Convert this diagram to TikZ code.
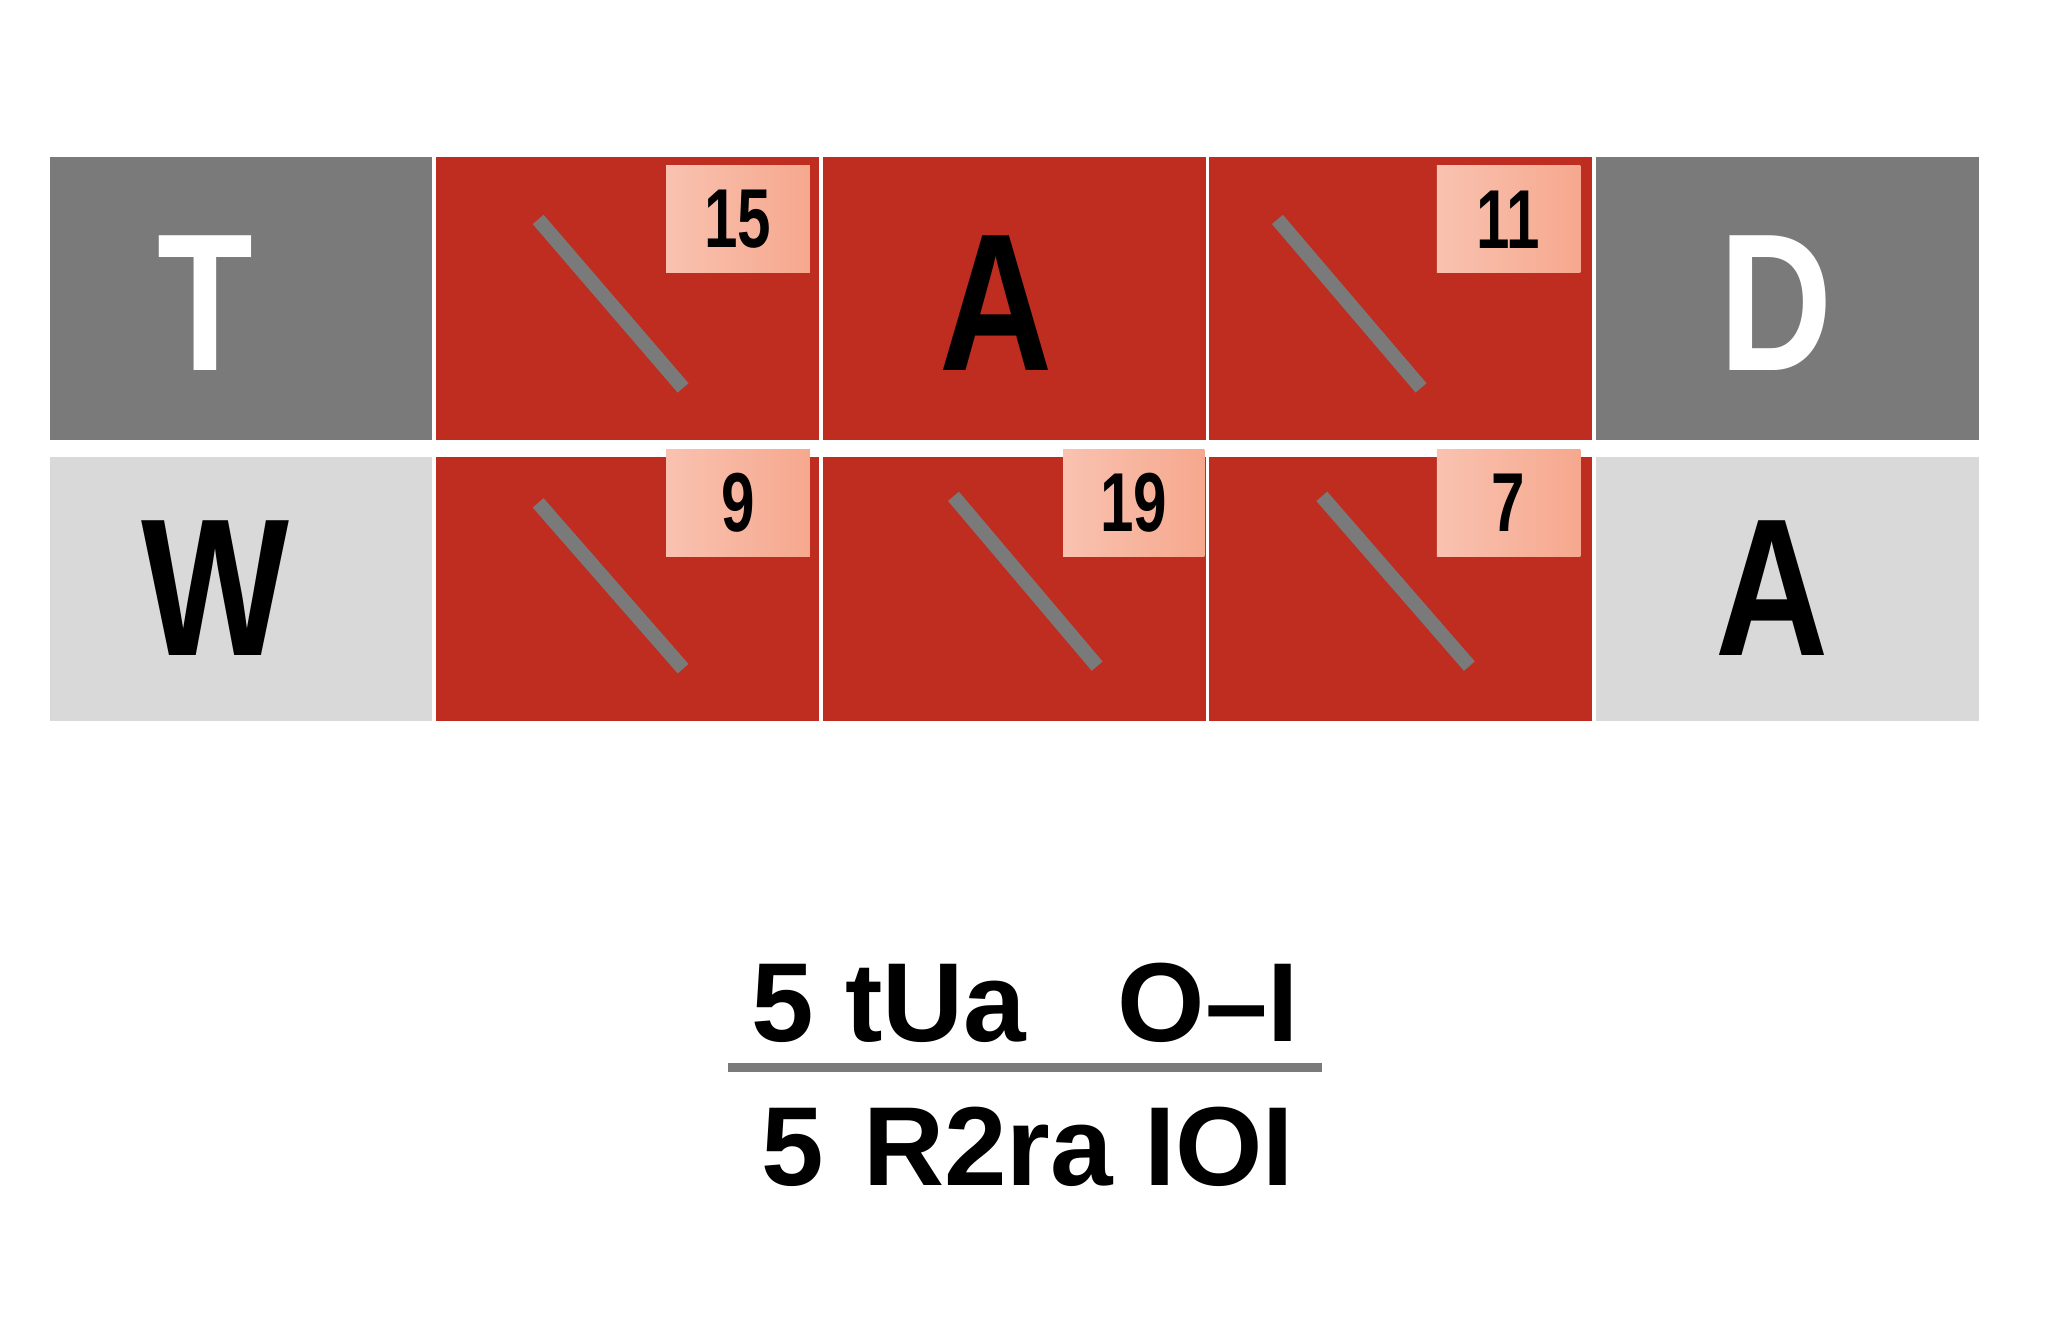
\documentclass[tikz,border=0pt]{standalone}
\usepackage{fontspec}
\setmainfont{Liberation Sans}
\definecolor{cred}{HTML}{BE2D20}
\definecolor{dgray}{HTML}{7A7A7A}
\definecolor{lgray}{HTML}{D9D9D9}
\definecolor{badge}{HTML}{F6A88E}
\begin{document}
\begin{tikzpicture}[x=1pt,y=-1pt,
  slash/.style={line width=11pt,draw=dgray},
  badgebox/.style={draw=none,left color=badge!70!white,right color=badge,minimum width=110pt,minimum height=82pt,font=\fontsize{64}{64}\selectfont\bfseries},
  big/.style={font=\fontsize{150}{150}\selectfont\bfseries},
  eq/.style={font=\fontsize{86}{86}\selectfont\bfseries}]
\useasboundingbox (0,0) rectangle (1568,1025);
\fill[dgray] (38,120) rectangle (331,337);
\fill[cred] (334,120) rectangle (627,337);
\fill[cred] (630,120) rectangle (923,337);
\fill[cred] (926,120) rectangle (1219,337);
\fill[dgray] (1222,120) rectangle (1515,337);
\fill[lgray] (38,350) rectangle (331,552);
\fill[cred] (334,350) rectangle (627,552);
\fill[cred] (630,350) rectangle (923,552);
\fill[cred] (926,350) rectangle (1219,552);
\fill[lgray] (1222,350) rectangle (1515,552);
\node[big,white] (t) at (157,232) {\scalebox{0.8}[1]{T}};
\node[big] (a1) at (763,232) {\scalebox{0.8}[1]{A}};
\node[big,white] (d) at (1360,232) {\scalebox{0.8}[1]{D}};
\node[big] (w) at (165,450) {\scalebox{0.8}[1]{W}};
\node[big] (a2) at (1357,450) {\scalebox{0.8}[1]{A}};
\draw[slash] (412,168) -- (523,297);
\draw[slash] (978,168) -- (1088,297);
\draw[slash] (412,385) -- (523,512);
\draw[slash] (730,380) -- (840,510);
\draw[slash] (1012,380) -- (1125,510);
\node[badgebox] (b15) at (565,168) {\scalebox{0.72}[1]{15}};
\node[badgebox] (b11) at (1155,168) {\scalebox{0.72}[1]{11}};
\node[badgebox] (b9) at (565,385) {\scalebox{0.72}[1]{9}};
\node[badgebox,minimum width=108pt] (b19) at (868,385) {\scalebox{0.72}[1]{19}};
\node[badgebox] (b7) at (1155,385) {\scalebox{0.72}[1]{7}};
\node[eq] (num) at (785,768) {5 tUa\hspace{70pt}O–I};
\draw[line width=7pt,dgray] (557,817) -- (1012,817);
\node[eq] (den) at (787,878) {5\hspace{30pt}R2ra IOI};
\end{tikzpicture}
\end{document}
